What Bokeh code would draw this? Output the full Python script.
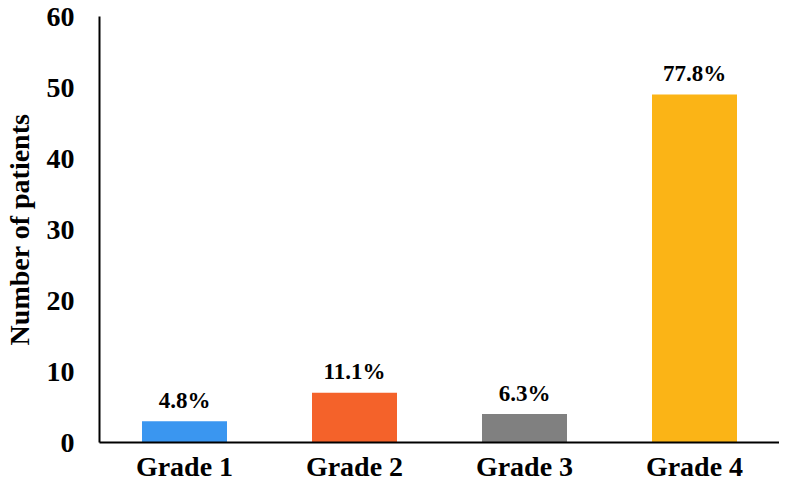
from bokeh.plotting import figure
from bokeh.models import ColumnDataSource, Range1d, FixedTicker
from bokeh.core.properties import value
from bokeh.embed import file_html
from bokeh.resources import INLINE

categories = ["Grade 1", "Grade 2", "Grade 3", "Grade 4"]
patients = [3, 7, 4, 49]
percent_labels = ["4.8%", "11.1%", "6.3%", "77.8%"]
colors = ["#3A96F0", "#F4622A", "#808080", "#FBB416"]
y_ticks = [0, 10, 20, 30, 40, 50, 60]

FONT = "Liberation Serif"

src = ColumnDataSource(dict(cat=categories, val=patients, lab=percent_labels, col=colors))

p = figure(x_range=categories, y_range=Range1d(0, 60),
           frame_width=680, frame_height=426,
           output_backend="svg", toolbar_location=None,
           min_border_left=90, min_border_right=0, min_border_top=16, min_border_bottom=0)
p.outline_line_color = None
p.background_fill_color = "white"
p.border_fill_color = "white"
p.xgrid.grid_line_color = None
p.ygrid.grid_line_color = None
p.x_range.range_padding = 0

p.vbar(x="cat", top="val", width=0.5, bottom=0, source=src,
       fill_color="col", line_color=None)

p.text(x="cat", y="val", text="lab", source=src,
       text_align="center", text_baseline="alphabetic", y_offset=-21,
       text_font=value(FONT), text_font_style="bold", text_font_size="23px",
       text_color="black")

for ax in (p.xaxis[0], p.yaxis[0]):
    ax.axis_line_color = "black"
    ax.axis_line_width = 2
    ax.major_tick_line_color = None
    ax.minor_tick_line_color = None
    ax.major_tick_out = 0
    ax.major_tick_in = 0
    ax.major_label_text_font = FONT
    ax.major_label_text_font_style = "bold"
    ax.major_label_text_font_size = "28px"
    ax.major_label_text_color = "black"

p.yaxis.ticker = FixedTicker(ticks=y_ticks)
p.yaxis.major_label_standoff = 25
p.yaxis.axis_label = "Number of patients"
p.yaxis.axis_label_text_font = FONT
p.yaxis.axis_label_text_font_style = "bold"
p.yaxis.axis_label_text_font_size = "28px"
p.yaxis.axis_label_text_color = "black"
p.yaxis.axis_label_standoff = 9
p.xaxis.major_label_standoff = 8

open("out.html", "w").write(file_html(p, INLINE))
